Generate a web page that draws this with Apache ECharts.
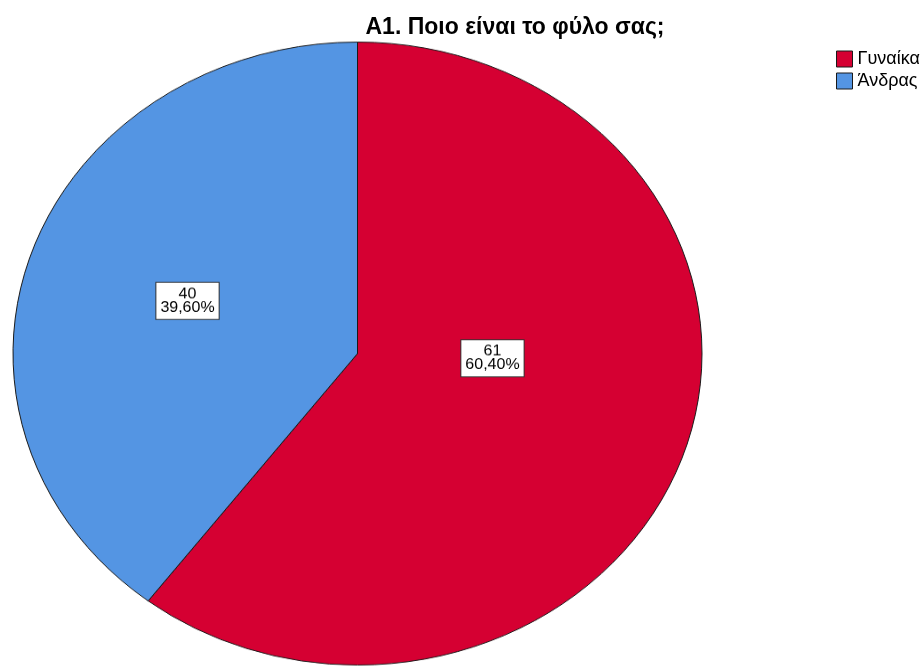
<!DOCTYPE html>
<html>
<head>
<meta charset="utf-8">
<script src="https://cdn.jsdelivr.net/npm/echarts@6/dist/echarts.min.js"></script>
<style>
  html, body { margin: 0; padding: 0; background: #fff; }
  #wrap { position: relative; width: 922px; height: 666px; overflow: hidden; }
  /* the SPSS pie is an ellipse, so the pie canvas is squashed vertically */
  #pie { position: absolute; left: 0; top: 0; width: 922px; height: 737px;
         transform: scaleY(0.9042); transform-origin: 0 0; }
  #top { position: absolute; left: 0; top: 0; width: 922px; height: 666px; pointer-events: none; }
</style>
</head>
<body>
<div id="wrap">
  <div id="pie"></div>
  <div id="top"></div>
</div>
<script>
const titleText = 'A1. Ποιο είναι το φύλο σας;';
const categories = ['Γυναίκα', 'Άνδρας'];
const counts = [61, 40];
const colors = ['#D50032', '#5495E3'];

const pieData = categories.map((name, i) => ({
  name: name,
  value: counts[i],
  itemStyle: { color: colors[i] }
}));

// nudges for the inside labels (unscaled px), SPSS puts them off-centre
const labelShift = [[-31, -51], [-4, -2]];

const pieChart = echarts.init(document.getElementById('pie'), null, { renderer: 'canvas' });
pieChart.setOption({
  animation: false,
  series: [{
    type: 'pie',
    center: [357.5, 391],
    radius: [0, 344.5],
    startAngle: 90,
    clockwise: true,
    silent: true,
    data: pieData,
    itemStyle: { borderColor: '#1a1a1a', borderWidth: 1 },
    label: {
      show: true,
      position: 'inside',
      formatter: (p) => p.value + '\n' + p.percent.toFixed(2).replace('.', ',') + '%',
      color: '#000',
      fontFamily: 'Liberation Sans, Arial, sans-serif',
      fontSize: 16,
      lineHeight: 15,
      align: 'center',
      backgroundColor: '#fff',
      borderColor: '#333',
      borderWidth: 1,
      padding: [5, 4]
    },
    labelLine: { show: false },
    labelLayout: (params) => ({
      dx: labelShift[params.dataIndex][0],
      dy: labelShift[params.dataIndex][1]
    })
  }]
});

// title and legend drawn unsquashed on top
const topChart = echarts.init(document.getElementById('top'));
topChart.setOption({
  animation: false,
  title: {
    text: titleText,
    left: 510,
    top: 11,
    textAlign: 'center',
    textStyle: {
      fontFamily: 'Liberation Sans, Arial, sans-serif',
      fontSize: 23,
      fontWeight: 'bold',
      color: '#000'
    }
  },
  legend: {
    orient: 'vertical',
    left: 831,
    top: 45,
    icon: 'rect',
    itemWidth: 16,
    itemHeight: 16,
    itemGap: 4,
    selectedMode: false,
    data: categories,
    itemStyle: { borderColor: '#1a1a1a', borderWidth: 1 },
    textStyle: {
      fontFamily: 'Liberation Sans, Arial, sans-serif',
      fontSize: 18,
      color: '#000'
    }
  },
  series: [{
    type: 'pie',
    center: [357.5, 353.5],
    radius: [0, 0],
    silent: true,
    data: pieData,
    label: { show: false },
    labelLine: { show: false }
  }]
});
</script>
</body>
</html>
